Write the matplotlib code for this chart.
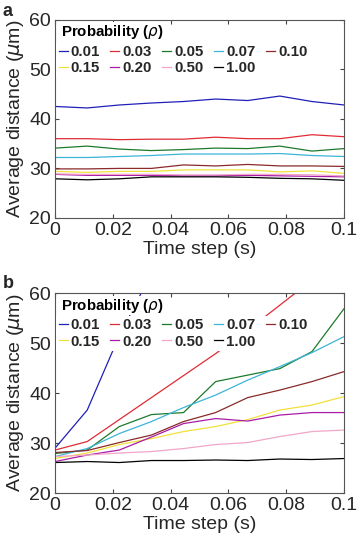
import matplotlib.pyplot as plt
import numpy as np

plt.rcParams['font.family'] = ['Liberation Sans', 'DejaVu Sans']
plt.rcParams['mathtext.fontset'] = 'dejavusans'
plt.rcParams['text.color'] = '#262626'
plt.rcParams['axes.labelcolor'] = '#262626'
plt.rcParams['xtick.labelcolor'] = '#262626'
plt.rcParams['ytick.labelcolor'] = '#262626'

t = np.linspace(0, 0.1, 10)
labels = ['0.01', '0.03', '0.05', '0.07', '0.10', '0.15', '0.20', '0.50', '1.00']
colors = ['#2020b8', '#e02b35', '#1d7a2c', '#3cb4d8', '#8a2a2a',
          '#f2e03a', '#a81ca8', '#f2a6c8', '#000000']

# panel a: average distance vs time step
a_001 = [42.5, 42.2, 42.8, 43.2, 43.5, 44.0, 43.7, 44.6, 43.5, 42.8]
a_003 = [36.0, 36.0, 35.8, 35.9, 35.9, 36.3, 36.0, 36.0, 36.8, 36.4]
a_005 = [34.1, 34.5, 33.9, 33.6, 33.8, 34.1, 34.0, 34.5, 33.5, 34.0]
a_007 = [32.2, 32.2, 32.4, 32.6, 32.9, 32.9, 32.9, 33.0, 32.6, 32.4]
a_010 = [29.9, 29.9, 30.0, 30.0, 30.7, 30.5, 30.8, 30.5, 30.5, 30.4]
a_015 = [29.4, 29.2, 29.4, 29.4, 29.7, 29.7, 29.7, 29.3, 29.5, 29.0]
a_020 = [28.8, 28.6, 28.6, 28.6, 28.5, 28.5, 28.6, 28.5, 28.4, 28.3]
a_050 = [28.9, 28.8, 28.8, 28.8, 28.7, 28.7, 28.8, 28.8, 28.7, 28.5]
a_100 = [27.9, 27.7, 27.9, 28.3, 28.3, 28.3, 28.2, 28.0, 27.9, 27.6]

# panel b
b_001 = [29.0, 36.6, 51.5, 64.0, 71.0, 76.0, 81.0, 86.0, 91.0, 96.0]
b_003 = [28.6, 30.3, 34.7, 39.1, 43.5, 47.9, 52.6, 57.6, 62.6, 67.6]
b_005 = [27.9, 28.6, 33.3, 35.7, 36.1, 42.3, 43.6, 44.9, 48.3, 56.9]
b_007 = [27.3, 28.9, 31.9, 34.3, 37.1, 39.6, 42.6, 45.3, 48.1, 51.3]
b_010 = [28.1, 28.5, 30.1, 31.6, 34.3, 36.1, 39.1, 40.6, 42.3, 44.3]
b_015 = [26.9, 28.0, 29.7, 30.9, 32.3, 33.3, 34.7, 36.6, 37.6, 39.3]
b_020 = [26.3, 27.6, 28.6, 31.2, 33.9, 34.9, 34.4, 35.6, 36.1, 36.1]
b_050 = [27.3, 27.6, 28.0, 28.3, 28.9, 29.7, 30.1, 31.3, 32.3, 32.6]
b_100 = [26.1, 26.3, 26.1, 26.5, 26.5, 26.6, 26.5, 26.8, 26.7, 26.9]

series_a = [a_001, a_003, a_005, a_007, a_010, a_015, a_020, a_050, a_100]
series_b = [b_001, b_003, b_005, b_007, b_010, b_015, b_020, b_050, b_100]

# matplotlib fills legend columns first; this gives row-major order
leg_order = [0, 5, 1, 6, 2, 7, 3, 8, 4]


def draw(ax, series):
    lines = []
    for y, lab, c in zip(series, labels, colors):
        ln, = ax.plot(t, y, color=c, lw=0.9, label=lab)
        lines.append(ln)
    ax.set_xlim(0, 0.1)
    ax.set_ylim(20, 60)
    ax.set_xticks([0, 0.02, 0.04, 0.06, 0.08, 0.1])
    ax.set_xticklabels(['0', '0.02', '0.04', '0.06', '0.08', '0.1'])
    ax.set_yticks([20, 30, 40, 50, 60])
    ax.tick_params(direction='in', top=True, right=True, labelsize=14,
                   length=3, color='#444444', pad=3)
    for s in ax.spines.values():
        s.set_color('#555555')
        s.set_linewidth(0.8)
    ax.set_xlabel('Time step (s)', fontsize=14, labelpad=1)
    ax.set_ylabel(r'Average distance ($\mu$m)', fontsize=14, labelpad=2)
    # legend title drawn separately so lines stay visible right of it
    ax.text(0.022, 0.918, r'Probability ($\rho$)', transform=ax.transAxes,
            fontsize=10.8, fontweight='bold', color='black', va='baseline',
            zorder=6, bbox=dict(fc='white', ec='none', pad=0.5))
    ax.legend([lines[i] for i in leg_order], [labels[i] for i in leg_order],
              loc='upper left', bbox_to_anchor=(0.004, 0.885), ncol=5,
              frameon=True, fancybox=False, edgecolor='none', framealpha=1,
              prop={'weight': 'bold', 'size': 10.8},
              handlelength=0.6, handletextpad=0.2, columnspacing=0.7,
              borderpad=0.15, borderaxespad=0, labelspacing=0.15)


fig = plt.figure(figsize=(3.58, 5.49), dpi=100)
ax1 = fig.add_axes([0.154, 0.603, 0.807, 0.361])
ax2 = fig.add_axes([0.154, 0.102, 0.807, 0.364])
draw(ax1, series_a)
draw(ax2, series_b)
fig.text(0.008, 0.995, 'a', fontsize=13, fontweight='bold', va='top')
fig.text(0.008, 0.5, 'b', fontsize=13, fontweight='bold', va='top')

fig.savefig('out.png', dpi=100)
